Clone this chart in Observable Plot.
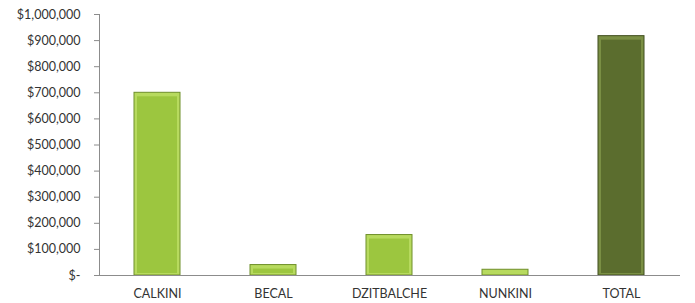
<!DOCTYPE html>
<html>
<head>
<meta charset="utf-8">
<script src="https://cdn.jsdelivr.net/npm/d3@7"></script>
<script src="https://cdn.jsdelivr.net/npm/@observablehq/plot@0.6"></script>
<style>
  html, body { margin: 0; padding: 0; background: #fff; }
  #chart svg { display: block; }
</style>
</head>
<body>
<div id="chart"></div>
<script>
const categories = ["CALKINI", "BECAL", "DZITBALCHE", "NUNKINI", "TOTAL"];
const values = [700000, 40000, 155000, 22000, 917000];
const yTicks = [0, 100000, 200000, 300000, 400000, 500000, 600000, 700000, 800000, 900000, 1000000];

const data = categories.map((c, i) => ({cat: c, value: values[i]}));
const isTotal = d => d.cat === "TOTAL";
const notTotal = d => d.cat !== "TOTAL";

const fmt = v => v === 0 ? "$-" : "$" + d3.format(",")(v);

const chart = Plot.plot({
  width: 695,
  height: 303,
  marginLeft: 99,
  marginRight: 15,
  marginTop: 14,
  marginBottom: 28,
  style: {fontFamily: "Lato, sans-serif", fontSize: "12px", color: "#333", background: "#fff"},
  x: {domain: categories, paddingInner: 0.6, paddingOuter: 0.3, label: null},
  y: {domain: [0, 1000000], label: null},
  marks: [
    Plot.axisY({ticks: yTicks, tickFormat: fmt, tickSize: 5, tickPadding: 14, stroke: "#8c8c8c", fill: "#333", fontSize: 12.5}),
    Plot.axisX({tickSize: 0, tickPadding: 14, fill: "#333", fontSize: 12.5}),
    Plot.frame({anchor: "left", stroke: "#8c8c8c"}),
    Plot.barY(data, {filter: notTotal, x: "cat", y: "value", fill: "#b7da5e", stroke: "#6f8f2a", strokeWidth: 1}),
    Plot.barY(data, {filter: notTotal, x: "cat", y: "value", fill: "#9cc63f", insetLeft: 3, insetRight: 3, insetTop: 4, insetBottom: 2}),
    Plot.barY(data, {filter: isTotal, x: "cat", y: "value", fill: "#7a8f44", stroke: "#3f4c1d", strokeWidth: 1}),
    Plot.barY(data, {filter: isTotal, x: "cat", y: "value", fill: "#5b6d2e", insetLeft: 3, insetRight: 3, insetTop: 4, insetBottom: 2}),
    Plot.ruleY([0], {stroke: "#8c8c8c"})
  ]
});
document.getElementById("chart").appendChild(chart);
</script>
</body>
</html>
